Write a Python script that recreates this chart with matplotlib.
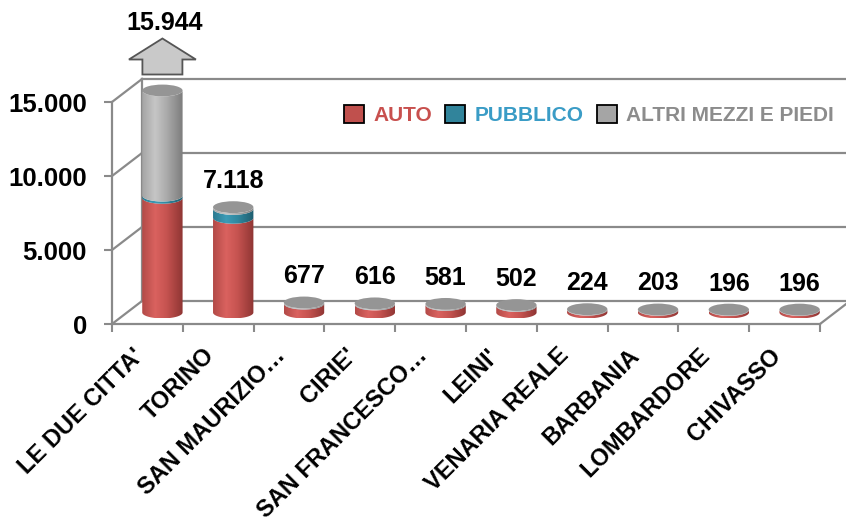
import numpy as np
import matplotlib
matplotlib.use("Agg")
import matplotlib.pyplot as plt
from matplotlib.patches import Polygon, Ellipse, Patch
from matplotlib.colors import LinearSegmentedColormap
from matplotlib.transforms import ScaledTranslation, offset_copy

plt.rcParams['font.family'] = ['Liberation Sans', 'DejaVu Sans']
plt.rcParams['font.weight'] = 'bold'

comuni = ["LE DUE CITTA'", "TORINO", "SAN MAURIZIO…", "CIRIE'", "SAN FRANCESCO…",
          "LEINI'", "VENARIA REALE", "BARBANIA", "LOMBARDORE", "CHIVASSO"]
auto = [7750, 6400, 600, 540, 515, 440, 190, 180, 170, 172]
pubblico = [150, 600, 12, 16, 8, 10, 4, 3, 2, 4]
altri = [8044, 118, 65, 60, 58, 52, 30, 20, 24, 20]
serie_nomi = ["AUTO", "PUBBLICO", "ALTRI MEZZI E PIEDI"]
yticks = [0, 5000, 10000, 15000]
ymax = 15000

# colori: base (legenda), testo legenda, gradiente cilindro (bordo sx, luce, bordo dx)
base_col = ['#c0504d', '#31849b', '#a5a5a5']
text_col = ['#c8504e', '#3a9cc6', '#8c8c8c']
grad_col = [['#b24a47', '#da625f', '#c65350', '#8e3533'],
            ['#2b7a90', '#3c9bb6', '#2f889f', '#1f5d6e'],
            ['#a4a4a4', '#c6c6c6', '#ababab', '#7c7c7c']]
top_col = '#959595'
grid_c = '#8a8a8a'

# geometria 3D finta (profondita' in unita' dati)
DX, DY = 0.424, 1554
W, EH = 0.57, 800

fig = plt.figure(figsize=(8.46, 5.23), dpi=100)
ax = fig.add_axes([112/846, 1 - 324/523, 708/846, 222/523])

n = len(comuni)
x0, x1 = -0.5, n - 0.5

# pareti laterale e di fondo
for v in yticks:
    ax.plot([x0, x0 + DX], [v, v + DY], color=grid_c, lw=1.6, clip_on=False, zorder=1)
    ax.plot([x0 + DX, x1 + DX], [v + DY, v + DY], color=grid_c, lw=1.6, clip_on=False, zorder=1)
ax.plot([x0 + DX, x0 + DX], [DY, ymax + DY], color=grid_c, lw=1.6, clip_on=False, zorder=1)
ax.plot([x1, x1 + DX], [0, DY], color=grid_c, lw=1.6, clip_on=False, zorder=1)

cmaps = [LinearSegmentedColormap.from_list('c%d' % k, list(zip([0, 0.32, 0.6, 1], g)))
         for k, g in enumerate(grad_col)]
grad = np.linspace(0, 1, 256).reshape(1, -1)
t = np.linspace(np.pi, 2 * np.pi, 60)


def side(cx, ya, yb):
    xs = cx + W / 2 * np.cos(t)
    lo = np.column_stack([xs, ya + EH / 2 * np.sin(t)])
    up = np.column_stack([xs[::-1], (yb + EH / 2 * np.sin(t))[::-1]])
    return np.vstack([lo, up])


serie = [auto, pubblico, altri]
totali = [a + p + o for a, p, o in zip(auto, pubblico, altri)]
for i in range(n):
    cx = i + DX / 2
    base = DY / 2
    acc = 0
    for k, s in enumerate(serie):
        a, b = acc, min(acc + s[i], ymax)
        acc += s[i]
        if b <= a:
            continue
        poly = Polygon(side(cx, base + a, base + b), closed=True, transform=ax.transData,
                       fc='none', ec='none')
        im = ax.imshow(grad, cmap=cmaps[k], extent=(cx - W / 2, cx + W / 2, base + a - EH / 2, base + b),
                       aspect='auto', origin='lower', interpolation='bilinear', zorder=3)
        im.set_clip_path(poly)
        im.set_clip_box(fig.bbox)
    top = min(totali[i], ymax)
    ax.add_patch(Ellipse((cx, base + top), W, EH, fc=top_col, ec='none', zorder=4, clip_on=False))

    lab = f"{totali[i]:,}".replace(",", ".")
    if totali[i] > ymax:
        tr = fig.dpi_scale_trans + ScaledTranslation(cx, base + top, ax.transData)
        ax.add_patch(Polygon([(-0.20, 0.16), (0.20, 0.16), (0.20, 0.31), (0.335, 0.31), (0, 0.52),
                              (-0.335, 0.31), (-0.20, 0.31)], closed=True, transform=tr,
                             fc='#c9c9c9', ec='#555555', lw=1.3, clip_on=False, zorder=5))
        ax.text(cx, base + top, lab, transform=offset_copy(ax.transData, fig=fig, x=2, y=61, units='dots'),
                ha='center', va='baseline', fontsize=18, zorder=6)
    else:
        ax.text(cx, base + top, lab, transform=offset_copy(ax.transData, fig=fig, y=19, units='dots'),
                ha='center', va='baseline', fontsize=18, zorder=6)

    ax.text(i, 0, comuni[i], transform=offset_copy(ax.transData, fig=fig, x=1, y=-20, units='dots'),
            rotation=45, ha='right', va='top', fontsize=17)

ax.set_xlim(x0, x1)
ax.set_ylim(0, ymax)
ax.set_aspect('auto')
for sp in ['top', 'right']:
    ax.spines[sp].set_visible(False)
for sp in ['left', 'bottom']:
    ax.spines[sp].set_color(grid_c)
    ax.spines[sp].set_linewidth(1.6)
ax.set_xticks(np.arange(n + 1) - 0.5)
ax.set_xticklabels([])
ax.set_yticks(yticks)
ax.set_yticklabels([f"{v:,}".replace(",", ".") for v in yticks])
ax.tick_params(axis='x', length=6, width=1.5, color=grid_c)
ax.tick_params(axis='y', length=6, width=1.5, color=grid_c, pad=12, labelsize=18.5)

handles = [Patch(facecolor=c, edgecolor='black', lw=1.3) for c in base_col]
ax.legend(handles, serie_nomi, loc='center left', bbox_to_anchor=(344/846, 1 - 115/523),
          bbox_transform=fig.transFigure, ncol=3, frameon=False,
          prop={'size': 15, 'weight': 'bold'}, labelcolor=text_col,
          handlelength=0.95, handleheight=0.95, handletextpad=0.45, columnspacing=0.65,
          borderpad=0, borderaxespad=0)

fig.savefig("out.png", dpi=100)
